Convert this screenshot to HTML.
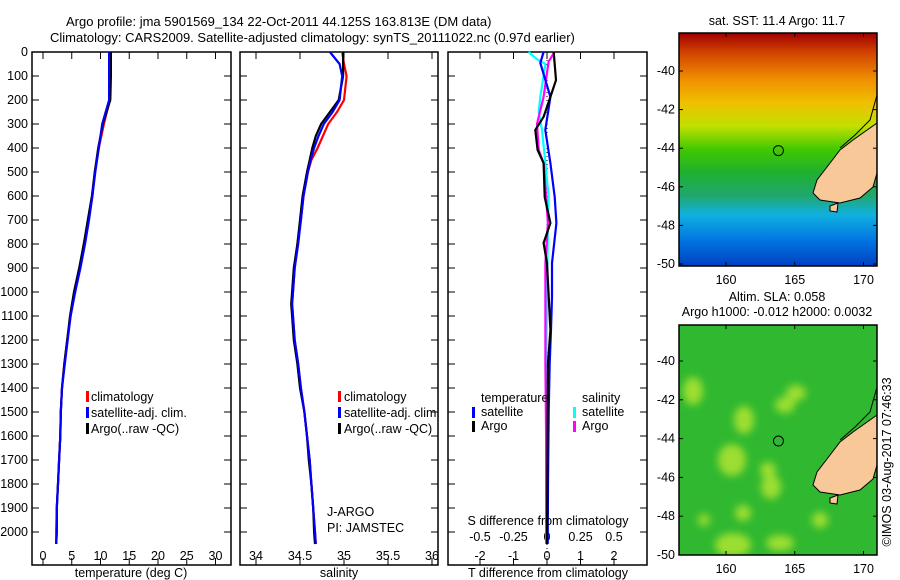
<!DOCTYPE html>
<html><head><meta charset="utf-8">
<style>
html,body{margin:0;padding:0;background:#fff;}
svg{display:block;font-family:"Liberation Sans",sans-serif;font-size:12.5px;}
</style></head>
<body>
<svg id="c" width="900" height="580" viewBox="0 0 900 580">
<defs>
<linearGradient id="sstg" x1="0" y1="0" x2="0" y2="1">
<stop offset="0" stop-color="#a00000"/>
<stop offset="0.08" stop-color="#d04000"/>
<stop offset="0.2" stop-color="#f09000"/>
<stop offset="0.3" stop-color="#f0c000"/>
<stop offset="0.4" stop-color="#c0e000"/>
<stop offset="0.5" stop-color="#40c800"/>
<stop offset="0.6" stop-color="#20b030"/>
<stop offset="0.7" stop-color="#20a870"/>
<stop offset="0.78" stop-color="#10b0e0"/>
<stop offset="0.9" stop-color="#0070e0"/>
<stop offset="1" stop-color="#0040c0"/>
</linearGradient>
<filter id="blur"><feGaussianBlur stdDeviation="4"/></filter>
<clipPath id="m1c"><rect x="679" y="33" width="198" height="233"/></clipPath>
<clipPath id="m2c"><rect x="679" y="325" width="198" height="230"/></clipPath>
</defs>
<g id="root"></g>
</svg>
<script>
// ---------- data ----------
const depthT = [0,100,200,300,400,500,600,700,800,900,1000,1100,1200,1300,1400,1500,1600,1700,1800,1900,2000,2050];
const argoTemp = [11.8,11.8,11.7,10.4,9.6,9.0,8.5,7.8,7.1,6.3,5.4,4.7,4.2,3.7,3.3,3.1,3.0,2.8,2.6,2.4,2.4,2.3];
const climTemp = [11.6,11.6,11.6,10.6,9.7,9.0,8.6,7.9,7.1,6.4,5.5,4.8,4.2,3.7,3.3,3.1,3.0,2.8,2.6,2.4,2.3,2.3];
const satTemp  = [11.5,11.5,11.5,10.3,9.7,9.1,8.6,8.0,7.3,6.5,5.6,4.8,4.3,3.8,3.3,3.1,3.0,2.8,2.6,2.4,2.4,2.3];
const depthS = [0,50,100,200,250,300,350,400,450,500,600,700,800,900,1000,1050,1100,1200,1300,1400,1500,1600,1700,1800,1900,2000,2050];
const argoSal = [34.99,34.99,34.99,34.94,34.84,34.74,34.68,34.64,34.61,34.58,34.53,34.50,34.47,34.43,34.41,34.40,34.41,34.43,34.47,34.50,34.55,34.58,34.60,34.63,34.65,34.66,34.67];
const climSal = [34.98,35.0,35.03,35.0,34.92,34.82,34.76,34.70,34.63,34.59,34.54,34.51,34.47,34.44,34.42,34.41,34.42,34.44,34.48,34.51,34.55,34.58,34.61,34.63,34.65,34.67,34.68];
const satSal  = [34.84,34.95,34.98,34.95,34.87,34.77,34.71,34.66,34.62,34.59,34.54,34.51,34.48,34.44,34.42,34.41,34.42,34.44,34.48,34.51,34.55,34.58,34.61,34.63,34.65,34.67,34.68];
const dSatT = [0,46,187,325,463,604,713,879,1021,1158,1296,1500,1800,2050];
const satTdiff = [-0.1,-0.2,0.1,-0.05,0.1,0.23,0.28,0.15,0.15,0.12,0.08,0.05,0.03,0.02];
const dArgoT = [0,117,187,270,325,408,463,604,713,796,879,1158,1296,1500,1800,2050];
const argoTdiff = [0.2,0.27,0.1,-0.1,-0.35,-0.28,-0.1,-0.07,0.1,-0.1,0,0.1,0.03,0.02,0.01,0.0];
const dArgoS = [0,40,187,300,408,463,604,713,879,1158,1296,1600,2050];
const argoSdiff = [0.057,0.012,-0.025,-0.075,-0.062,-0.025,-0.007,0.007,-0.012,-0.012,-0.012,-0.007,-0.005];
const dSatS = [0,30,50,187,250,325,463,604,713,1021,1296,1700,2050];
const satSdiff = [-0.137,-0.075,-0.012,-0.05,-0.062,-0.037,-0.012,0.012,0.007,0,-0.007,-0.007,-0.007];
const depthTicks = [0,100,200,300,400,500,600,700,800,900,1000,1100,1200,1300,1400,1500,1600,1700,1800,1900,2000];
const tempTicks = [0,5,10,15,20,25,30];
const salTicks = [34,34.5,35,35.5,36];
const tdTicks = [-2,-1,0,1,2];
const sdTicks = [-0.5,-0.25,0,0.25,0.5];
const sdTickLabels = ["-0.5","-0.25","0","0.25","0.5"];
const lonTicks = [160,165,170];
const latTicks = [-40,-42,-44,-46,-48,-50];

// ---------- helpers ----------
const NS="http://www.w3.org/2000/svg";
const root=document.getElementById('root');
function mk(tag,attrs,parent,text){const e=document.createElementNS(NS,tag);for(const k in attrs)e.setAttribute(k,attrs[k]);if(text!==undefined)e.textContent=text;(parent||root).appendChild(e);return e;}
const yD=d=>52+0.24*d;
const P1={x0:32,x1:231}, P2={x0:240,x1:438}, P3={x0:448,x1:647};
const xT=v=>43+5.75*v;
const xS=v=>256+88*(v-34);
const xTD=v=>547+33.5*v;
const xSD=v=>547+134*v;
const Y0=52,Y1=565;
const TICKY=560, TITLEY=577;

function panel(P,name){
  const r=mk('rect',{x:P.x0,y:Y0,width:P.x1-P.x0,height:Y1-Y0,fill:'none',stroke:'#000','stroke-width':1.5});
  
  
  depthTicks.forEach(d=>{
    mk('line',{x1:P.x0,x2:P.x0+7,y1:yD(d),y2:yD(d),stroke:'#000'});
    mk('line',{x1:P.x1,x2:P.x1-7,y1:yD(d),y2:yD(d),stroke:'#000'});
  });
}
function xticks(ticks,fx,labels,ly){
  ticks.forEach((t,i)=>{
    const x=fx(t);
    mk('line',{x1:x,x2:x,y1:Y0,y2:Y0+7,stroke:'#000'});
    mk('line',{x1:x,x2:x,y1:Y1,y2:Y1-7,stroke:'#000'});
    if(labels){const tx=mk('text',{x:x,y:ly,'text-anchor':'middle'},root,labels[i]);
      
      }
  });
}
function line(ds,vs,fx,color,name,w){
  const pts=ds.map((d,i)=>fx(vs[i]).toFixed(1)+','+yD(d).toFixed(1)).join(' ');
  const p=mk('polyline',{points:pts,fill:'none',stroke:color,'stroke-width':w||2.2});
  
  
}
function txt(x,y,s,name,anchor){const t=mk('text',{x:x,y:y,'text-anchor':anchor||'start'},root,s);
  
  return t;}
function legBar(x,y,c){mk('rect',{x:x,y:y-10,width:3,height:11,fill:c});}

// titles
txt(66,26,'Argo profile: jma 5901569_134 22-Oct-2011 44.125S 163.813E (DM data)','title-line-1').setAttribute('font-size','13');
txt(50,42,'Climatology: CARS2009. Satellite-adjusted climatology: synTS_20111022.nc (0.97d earlier)','title-line-2').setAttribute('font-size','13');

// panel 1
panel(P1,'temperature-panel');
depthTicks.forEach(d=>{const t=txt(28,yD(d)+4,String(d),'y-tick-label','end');});
xticks(tempTicks,xT,tempTicks.map(String),TICKY);
line(depthT,climTemp,xT,'#ff0000','temp-climatology-line');
line(depthT,argoTemp,xT,'#000000','temp-argo-line');
line(depthT,satTemp,xT,'#0000ff','temp-satellite-line');
txt(131,TITLEY,'temperature (deg C)','x-axis-title','middle');
legBar(86,401,'#ff0000');txt(91,401,'climatology','legend-climatology');
legBar(86,417,'#0000ff');txt(91,417,'satellite-adj. clim.','legend-satellite');
legBar(86,433,'#000');txt(91,433,'Argo(..raw -QC)','legend-argo');

// panel 2
panel(P2,'salinity-panel');
xticks(salTicks,xS,salTicks.map(String),TICKY);
line(depthS,climSal,xS,'#ff0000','sal-climatology-line');
line(depthS,argoSal,xS,'#000000','sal-argo-line');
line(depthS,satSal,xS,'#0000ff','sal-satellite-line');
txt(339,TITLEY,'salinity','x-axis-title','middle');
legBar(338,401,'#ff0000');txt(344,401,'climatology','legend-climatology');
legBar(338,417,'#0000ff');txt(344,417,'satellite-adj. clim.','legend-satellite');
legBar(338,433,'#000');txt(344,433,'Argo(..raw -QC)','legend-argo');
txt(327,516,'J-ARGO','j-argo-label');
txt(327,532,'PI: JAMSTEC','pi-label');

// panel 3
panel(P3,'difference-panel');
xticks(tdTicks,xTD,tdTicks.map(String),TICKY);
sdTicks.forEach((t,i)=>{txt(xSD(t),541,sdTickLabels[i],'s-tick-label','middle');});
mk('line',{x1:547,x2:547,y1:Y0,y2:Y1,stroke:'#000','stroke-dasharray':'1,3'});
line(dSatS,satSdiff,xSD,'#00ffff','s-satellite-diff-line');
line(dArgoS,argoSdiff,xSD,'#ff00ff','s-argo-diff-line');
line(dSatT,satTdiff,xTD,'#0000ff','t-satellite-diff-line');
line(dArgoT,argoTdiff,xTD,'#000000','t-argo-diff-line');
txt(548,TITLEY,'T difference from climatology','x-axis-title','middle');
txt(548,525,'S difference from climatology','s-axis-title','middle');
txt(481,402,'temperature','legend-temperature-head');
txt(582,402,'salinity','legend-salinity-head');
legBar(472,417,'#0000ff');txt(481,416,'satellite','legend-t-satellite');
legBar(472,431,'#000');txt(481,430,'Argo','legend-t-argo');
legBar(573,417,'#00ffff');txt(582,416,'satellite','legend-s-satellite');
legBar(573,431,'#ff00ff');txt(582,430,'Argo','legend-s-argo');

// maps
const xLon=v=>726+13.75*(v-160);
function map(top,bottom,latY,clip,kind,name){
  const g=mk('g',{'clip-path':'url(#'+clip+')'});
  
  
  if(kind==='sst'){
    mk('rect',{x:679,y:top,width:198,height:bottom-top,fill:'url(#sstg)'},g);
  } else {
    mk('rect',{x:679,y:top,width:198,height:bottom-top,fill:'#30b830'},g);
    const gb=mk('g',{filter:'url(#blur)',fill:'#b8e830',opacity:0.8},g);
    [[693,391,10,14],[744,420,10,14],[732,460,14,16],[768,470,8,8],[771,487,10,12],[743,513,8,8],[769,488,6,6],[704,520,6,6],[780,543,14,8],[733,545,18,12],[796,393,10,8],[860,470,6,10],[820,520,8,8],[785,405,10,8]].forEach(b=>mk('ellipse',{cx:b[0],cy:b[1],rx:b[2],ry:b[3]},gb));
  }
  const dy=top-33;
  const land=[[877,123],[853,140],[840,150],[827,167],[817,180],[813,193],[820,200],[840,203],[860,198],[873,187],[877,173],[880,173],[880,120]];
  mk('polygon',{points:land.map(p=>p[0]+','+(p[1]+dy)).join(' '),fill:'#f8c898',stroke:'#000','stroke-width':1},g);
  mk('polygon',{points:[[830,206],[838,203],[837,212],[830,211]].map(p=>p[0]+','+(p[1]+dy)).join(' '),fill:'#f8c898',stroke:'#000'},g);
  mk('polyline',{points:[[877,95],[870,120],[855,135],[840,148]].map(p=>p[0]+','+(p[1]+dy)).join(' '),fill:'none',stroke:'#000'},g);
  const c=mk('circle',{cx:xLon(163.813),cy:latY(-44.125),r:5,fill:'none',stroke:'#000'});
  
  
  mk('rect',{x:679,y:top,width:198,height:bottom-top,fill:'none',stroke:'#000','stroke-width':1.5});
  latTicks.forEach(l=>{const y=latY(l);
    mk('line',{x1:679,x2:683,y1:y,y2:y,stroke:'#000'});mk('line',{x1:877,x2:873,y1:y,y2:y,stroke:'#000'});
    txt(675,y+4,String(l),'lat-tick-label','end');});
  lonTicks.forEach(l=>{const x=xLon(l);
    mk('line',{x1:x,x2:x,y1:top,y2:top+4,stroke:'#000'});mk('line',{x1:x,x2:x,y1:bottom,y2:bottom-4,stroke:'#000'});
    txt(x,bottom+18,String(l),'lon-tick-label','middle');});
}
map(33,266,l=>71+(-40-l)*19.3,'m1c','sst','sst-map');
txt(777,25,'sat. SST: 11.4  Argo: 11.7','sst-map-title','middle');
txt(777,301,'Altim. SLA: 0.058','sla-map-title-1','middle');
txt(777,316,'Argo h1000: -0.012 h2000: 0.0032','sla-map-title-2','middle');
map(325,555,l=>361+(-40-l)*19.4,'m2c','sla','sla-map');
const cp=txt(0,0,'©IMOS 03-Aug-2017 07:46:33','copyright-label','middle');
cp.setAttribute('transform','translate(891,462) rotate(-90)');
</script>
</body></html>
